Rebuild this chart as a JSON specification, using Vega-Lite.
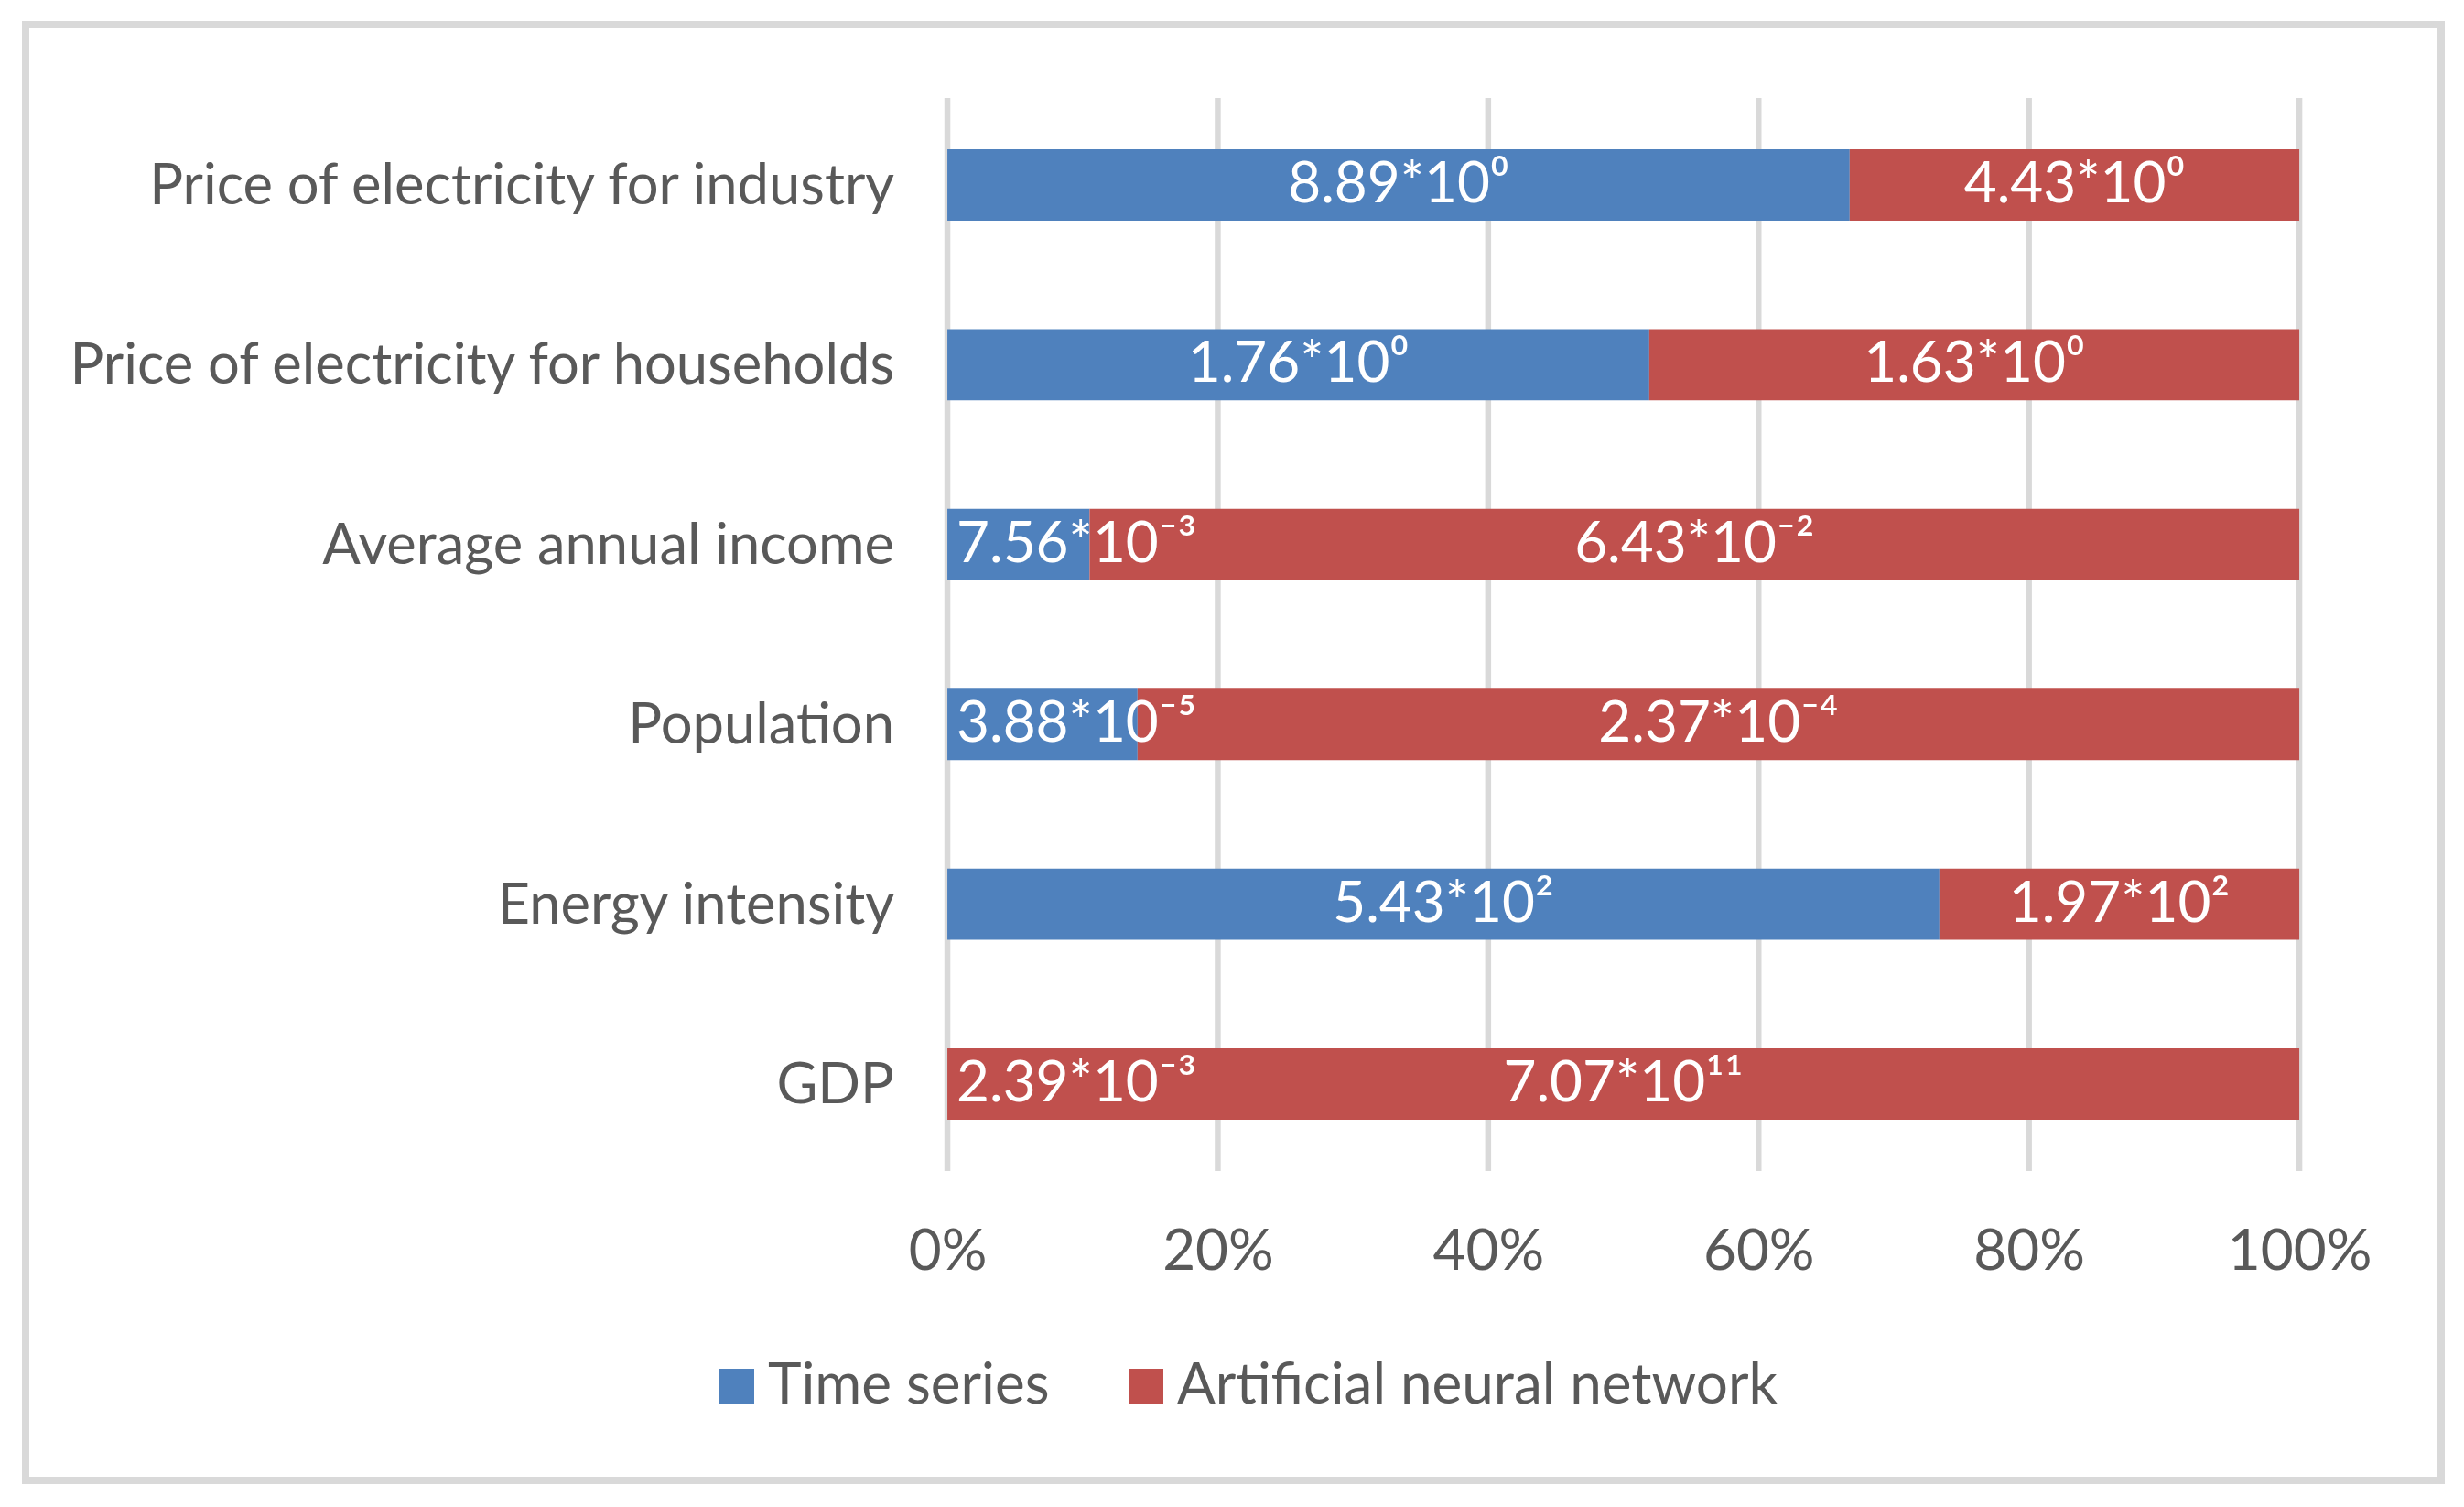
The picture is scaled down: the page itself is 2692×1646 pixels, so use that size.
{
  "$schema": "https://vega.github.io/schema/vega-lite/v6.json",
  "width": 2639,
  "height": 1590,
  "autosize": {"type": "none"},
  "padding": {"left": 28, "top": 27, "right": 25, "bottom": 29},
  "background": "white",
  "config": {
    "view": {"stroke": "#D9D9D9", "strokeWidth": 8},
    "font": "Lato",
    "axisX": {"domain": false, "ticks": false, "grid": false, "labelFont": "Lato", "labelFontSize": 62, "labelColor": "#595959", "offset": -338, "labelPadding": 107, "labelBaseline": "alphabetic", "labelFlush": false, "labelOverlap": false}
  },
  "datasets": {
    "bars": [
      {"cat": "Price of electricity for industry", "method": "Time series", "value": 8.89, "label": "8.89*10⁰"},
      {"cat": "Price of electricity for industry", "method": "Artificial neural network", "value": 4.43, "label": "4.43*10⁰"},
      {"cat": "Price of electricity for households", "method": "Time series", "value": 1.76, "label": "1.76*10⁰"},
      {"cat": "Price of electricity for households", "method": "Artificial neural network", "value": 1.63, "label": "1.63*10⁰"},
      {"cat": "Average annual income", "method": "Time series", "value": 0.00756, "label": "7.56*10⁻³"},
      {"cat": "Average annual income", "method": "Artificial neural network", "value": 0.0643, "label": "6.43*10⁻²"},
      {"cat": "Population", "method": "Time series", "value": 0.0000388, "label": "3.88*10⁻⁵"},
      {"cat": "Population", "method": "Artificial neural network", "value": 0.000237, "label": "2.37*10⁻⁴"},
      {"cat": "Energy intensity", "method": "Time series", "value": 543, "label": "5.43*10²"},
      {"cat": "Energy intensity", "method": "Artificial neural network", "value": 197, "label": "1.97*10²"},
      {"cat": "GDP", "method": "Time series", "value": 0.00239, "label": "2.39*10⁻³"},
      {"cat": "GDP", "method": "Artificial neural network", "value": 707000000000, "label": "7.07*10¹¹"}
    ],
    "grid": [{"t": 0}, {"t": 0.2}, {"t": 0.4}, {"t": 0.6}, {"t": 0.8}, {"t": 1}]
  },
  "layer": [
    {
      "data": {"name": "grid"},
      "mark": {"type": "rule", "color": "#D9D9D9", "strokeWidth": 6.5},
      "encoding": {
        "x": {"field": "t", "type": "quantitative", "scale": {"domain": [-0.6818, 1.1049], "nice": false, "zero": false}, "axis": {"title": null, "values": [0, 0.2, 0.4, 0.6, 0.8, 1], "format": ".0%"}},
        "y": {"datum": 0, "type": "quantitative", "scale": {"domain": [-0.2884, 1.06825], "nice": false, "zero": false}, "axis": null},
        "y2": {"datum": 1}
      }
    },
    {
      "data": {"name": "bars"},
      "layer": [
        {
          "mark": {"type": "bar"},
          "encoding": {
            "y": {"field": "cat", "type": "nominal", "scale": {"domain": ["Price of electricity for industry", "Price of electricity for households", "Average annual income", "Population", "Energy intensity", "GDP"], "range": [80, 1252], "paddingInner": 0.603, "paddingOuter": 0.285}, "axis": null},
            "x": {"field": "value", "type": "quantitative", "stack": "normalize", "scale": {"domain": [-0.6818, 1.1049], "nice": false, "zero": false}, "axis": {"title": null, "values": [0, 0.2, 0.4, 0.6, 0.8, 1], "format": ".0%"}},
            "color": {
              "field": "method", "type": "nominal",
              "scale": {"domain": ["Time series", "Artificial neural network"], "range": ["#4F81BD", "#C0504D"]},
              "legend": {"orient": "none", "legendX": 746, "legendY": 1456, "direction": "horizontal", "title": null, "symbolType": "square", "symbolSize": 1444, "symbolStrokeWidth": 0, "symbolOpacity": 1, "labelFont": "Lato", "labelFontSize": 62, "labelColor": "#595959", "labelOffset": 3, "columnPadding": 74, "labelLimit": 2000, "padding": 0}
            },
            "order": {"field": "method", "sort": "descending"}
          }
        },
        {
          "mark": {"type": "text", "color": "white", "font": "Lato", "fontSize": 62, "baseline": "middle", "align": "center"},
          "encoding": {
            "y": {"field": "cat", "type": "nominal", "axis": null},
            "x": {"field": "value", "type": "quantitative", "stack": "normalize", "bandPosition": 0.5, "axis": {"title": null, "values": [0, 0.2, 0.4, 0.6, 0.8, 1], "format": ".0%"}},
            "detail": {"field": "method"},
            "order": {"field": "method", "sort": "descending"},
            "text": {"condition": {"test": "datum.method == 'Time series' && (datum.cat == 'Average annual income' || datum.cat == 'Population' || datum.cat == 'GDP')", "value": ""}, "field": "label", "type": "nominal"}
          }
        },
        {
          "transform": [{"filter": "datum.method == 'Time series' && (datum.cat == 'Average annual income' || datum.cat == 'Population' || datum.cat == 'GDP')"}],
          "mark": {"type": "text", "color": "white", "font": "Lato", "fontSize": 62, "baseline": "middle", "align": "left", "dx": 10},
          "encoding": {
            "y": {"field": "cat", "type": "nominal", "axis": null},
            "x": {"datum": 0, "type": "quantitative"},
            "text": {"field": "label", "type": "nominal"}
          }
        },
        {
          "transform": [{"filter": "datum.method == 'Time series'"}],
          "mark": {"type": "text", "color": "#595959", "font": "Lato", "fontSize": 61.5, "baseline": "middle", "align": "right", "dx": -58, "dy": 3},
          "encoding": {
            "y": {"field": "cat", "type": "nominal", "axis": null},
            "x": {"datum": 0, "type": "quantitative"},
            "text": {"field": "cat", "type": "nominal"}
          }
        }
      ]
    }
  ],
  "resolve": {"scale": {"y": "independent"}}
}
